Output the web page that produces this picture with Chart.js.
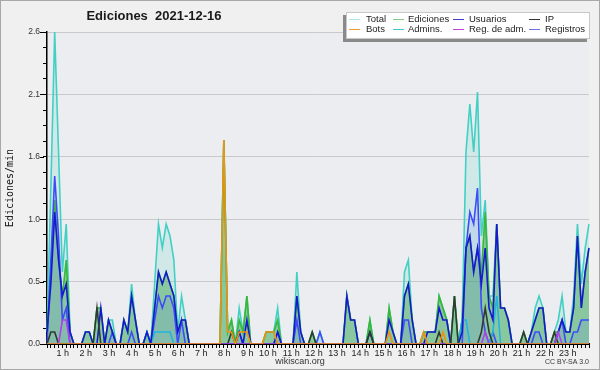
<!DOCTYPE html>
<html><head><meta charset="utf-8">
<script src="https://cdn.jsdelivr.net/npm/chart.js@4.4.1/dist/chart.umd.min.js"></script>
<style>html,body{margin:0;padding:0;background:#f0f0f0;} canvas{display:block;}</style>
</head><body>
<canvas id="c" width="600" height="370"></canvas>
<script>
// ---- tick labels ----
const hourTicks = ['1 h','2 h','3 h','4 h','5 h','6 h','7 h','8 h','9 h','10 h','11 h','12 h',
  '13 h','14 h','15 h','16 h','17 h','18 h','19 h','20 h','21 h','22 h','23 h'];
const yMajorTicks = [0, 0.52, 1.04, 1.56, 2.08, 2.6];
const yTickLabels = ['0.0','0.5','1.0','1.6','2.1','2.6'];

// ---- series (edits per minute, 10-minute bins) ----
const total = [
  0.1,1.3,2.6,1.6,0.6,1.0,  0.1,0,0,0,0.1,0.1,  0,0.3,0.3,0,0.2,0.2,  0,0,0.2,0.1,0.5,0.2,
  0,0,0.1,0,0.5,1.0,  0.8,1.0,0.9,0.7,0.1,0.4,  0.2,0,0,0,0,0,  0,0,0,0,1.7,0.1,
  0.2,0,0.3,0.1,0.4,0,  0,0,0,0.1,0.1,0.1,  0.3,0,0,0,0,0.6,  0.1,0,0,0.1,0,0.1,
  0,0,0,0,0,0,  0.4,0.2,0.2,0,0,0,  0.2,0,0,0,0,0.3,  0.1,0,0,0.6,0.7,0.2,
  0,0,0.1,0.1,0.1,0.1,  0.4,0.3,0.2,0,0.4,0,  0.2,1.6,2.0,1.6,2.1,0.9,  1.2,0.4,0.4,1.0,0.3,0.3,
  0.2,0,0,0,0.1,0,  0.1,0.3,0.4,0.3,0,0,  0.1,0.2,0.4,0.1,0.1,0.4,  1.0,0.5,0.8,1.0];
const ediciones = [
  0.1,0.6,1.2,0.7,0.4,0.7,  0.1,0,0,0,0.1,0.1,  0,0.3,0.3,0,0.2,0.1,  0,0,0.2,0.1,0.4,0.2,
  0,0,0.1,0,0.3,0.6,  0.5,0.6,0.5,0.4,0.1,0.2,  0.2,0,0,0,0,0,  0,0,0,0,1.7,0.1,
  0.2,0,0.2,0.1,0.4,0,  0,0,0,0.1,0.1,0.1,  0.2,0,0,0,0,0.4,  0.1,0,0,0.1,0,0,
  0,0,0,0,0,0,  0.4,0.2,0.2,0,0,0,  0.2,0,0,0,0,0.3,  0.1,0,0,0.4,0.5,0.2,
  0,0,0.1,0.1,0.1,0.1,  0.4,0.3,0.2,0,0.4,0,  0.2,0.8,0.9,0.6,0.8,0.6,  1.1,0.4,0.3,1.0,0.3,0.3,
  0.2,0,0,0,0.1,0,  0.1,0.2,0.3,0.3,0,0,  0.1,0.1,0.2,0.1,0.1,0.3,  0.9,0.3,0.6,0.8];
const usuarios = [
  0.1,0.5,1.1,0.7,0.4,0.5,  0.1,0,0,0,0.1,0.1,  0,0,0.3,0,0.2,0.1,  0,0,0.2,0.1,0.4,0.2,
  0,0,0.1,0,0.3,0.6,  0.5,0.6,0.5,0.4,0.1,0.2,  0.2,0,0,0,0,0,  0,0,0,0,0,0,
  0,0,0.1,0,0.2,0,  0,0,0,0,0,0,  0.1,0,0,0,0,0.4,  0.1,0,0,0,0,0,
  0,0,0,0,0,0,  0.4,0.2,0.2,0,0,0,  0.1,0,0,0,0,0.2,  0.1,0,0,0.4,0.5,0.2,
  0,0,0,0.1,0.1,0.1,  0.3,0.2,0.2,0,0,0,  0.1,0.8,0.9,0.6,0.8,0.5,  0.8,0.3,0.2,1.0,0.3,0.3,
  0.2,0,0,0,0,0,  0.1,0.2,0.3,0.3,0,0,  0,0.1,0.2,0.1,0.1,0.3,  0.9,0.3,0.6,0.8];
const ip = [
  0,0.1,0.1,0,0,0,  0,0,0,0,0,0,  0,0.3,0,0,0,0,  0,0,0,0,0,0,
  0,0,0,0,0,0,  0,0,0,0,0,0,  0,0,0,0,0,0,  0,0,0,0,0,0,
  0.1,0,0,0,0,0,  0,0,0,0,0,0,  0,0,0,0,0,0,  0,0,0,0.1,0,0,
  0,0,0,0,0,0,  0,0,0,0,0,0,  0.1,0,0,0,0,0,  0,0,0,0,0,0,
  0,0,0,0,0,0,  0.1,0,0,0,0.4,0,  0,0,0,0,0,0.1,  0.3,0.1,0,0,0,0,
  0,0,0,0,0.1,0,  0,0,0,0,0,0,  0.1,0,0,0,0,0,  0,0,0,0];
const bots = [
  0,0,0,0,0,0,  0,0,0,0,0,0,  0,0,0,0,0,0,  0,0,0,0,0,0,
  0,0,0,0,0,0,  0,0,0,0,0,0,  0,0,0,0,0,0,  0,0,0,0,1.7,0.1,
  0.1,0,0.1,0.1,0.1,0,  0,0,0,0.1,0.1,0.1,  0,0,0,0,0,0,  0,0,0,0,0,0,
  0,0,0,0,0,0,  0,0,0,0,0,0,  0,0,0,0,0,0.1,  0,0,0,0,0,0,
  0,0,0.1,0,0,0,  0,0.1,0,0,0,0,  0,0,0,0,0,0,  0,0,0,0,0,0,
  0,0,0,0,0,0,  0,0,0,0,0,0,  0,0,0,0,0,0,  0,0,0,0];
const admins = [
  0,0,0,0,0,0,  0,0,0,0,0,0,  0,0,0,0,0,0,  0,0,0,0,0,0,
  0,0,0.1,0,0.1,0.1,  0.1,0.1,0.1,0,0,0,  0,0,0,0,0,0,  0,0,0,0,0,0,
  0,0,0,0,0,0,  0,0,0,0,0,0,  0,0,0,0,0,0,  0,0,0,0,0,0,
  0,0,0,0,0,0,  0,0,0,0,0,0,  0,0,0,0,0,0,  0,0,0,0,0,0,
  0,0,0,0,0,0,  0,0,0,0,0,0,  0.2,0.2,0,0,0,0,  0,0,0.1,0.4,0,0,
  0,0,0,0,0,0,  0,0,0,0,0,0,  0,0,0,0,0,0,  0,0,0,0];
const regAdm = [
  0,0,0,0,0.2,0.2,  0,0,0,0,0,0,  0,0,0,0,0,0,  0,0,0,0,0,0,
  0,0,0,0,0,0,  0,0,0,0,0,0,  0,0,0,0,0,0,  0,0,0,0,0,0,
  0,0,0,0,0,0,  0,0,0,0,0,0,  0,0,0,0,0,0,  0,0,0,0,0,0,
  0,0,0,0,0,0,  0,0,0,0,0,0,  0,0,0,0,0,0,  0,0,0,0,0,0,
  0,0,0,0,0,0,  0,0,0,0,0,0,  0,0,0,0,0,0,  0.1,0,0,0,0,0,
  0,0,0,0,0,0,  0,0,0,0,0,0,  0,0.1,0,0,0,0,  0,0,0,0];
const registros = [
  0,0.7,1.4,0.9,0.2,0.3,  0,0,0,0,0,0,  0,0,0,0,0,0.1,  0,0,0,0,0.1,0,
  0,0,0,0,0.2,0.4,  0.3,0.4,0.4,0.3,0,0.2,  0,0,0,0,0,0,  0,0,0,0,0,0,
  0,0,0.1,0,0,0,  0,0,0,0,0,0,  0.1,0,0,0,0,0.2,  0,0,0,0,0,0.1,
  0,0,0,0,0,0,  0,0,0,0,0,0,  0,0,0,0,0,0,  0,0,0,0.2,0.2,0,
  0,0,0,0,0,0,  0,0,0,0,0,0,  0,0.8,1.1,1.0,1.3,0.3,  0.1,0,0.1,0,0,0,
  0,0,0,0,0,0,  0,0.1,0.1,0,0,0,  0,0.1,0.2,0,0,0.1,  0.1,0.2,0.2,0.2];

const legendItems = [
  ['Total', '#a6e6e2'], ['Ediciones', '#80cc80'], ['Usuarios', '#4040c8'], ['IP', '#333333'],
  ['Bots', '#f0a030'], ['Admins.', '#44c8d8'], ['Reg. de adm.', '#c040dc'], ['Registros', '#7070e8']
];

const labels = total.map((_, i) => String(i));

// minor y ticks: 4 subdivisions between labelled ticks
const yAllTicks = [];
for (let k = 0; k < yMajorTicks.length - 1; k++) {
  const a = yMajorTicks[k], b = yMajorTicks[k + 1];
  for (let s = 0; s < 4; s++) yAllTicks.push(a + (b - a) * s / 4);
}
yAllTicks.push(yMajorTicks[yMajorTicks.length - 1]);

function ds(label, data, color, order, extra) {
  return Object.assign({
    label, data, borderColor: color, backgroundColor: color, borderWidth: 1.6,
    pointRadius: 0, tension: 0, fill: false, order
  }, extra || {});
}

const decor = {
  id: 'decor',
  beforeDraw(chart) {
    const c = chart.ctx, a = chart.chartArea;
    c.save();
    c.fillStyle = '#f0f0f0';
    c.fillRect(0, 0, chart.width, chart.height);
    c.fillStyle = '#ebedf0';
    c.fillRect(a.left, a.top, a.right - a.left, a.bottom - a.top);
    c.restore();
  },
  afterDraw(chart) {
    const c = chart.ctx, a = chart.chartArea, ys = chart.scales.y;
    c.save();
    // longer major ticks on y axis
    c.strokeStyle = '#000'; c.lineWidth = 1;
    yMajorTicks.forEach(v => {
      const py = Math.round(ys.getPixelForValue(v)) + 0.5;
      c.beginPath(); c.moveTo(a.left - 7, py); c.lineTo(a.left - 3, py); c.stroke();
    });
    // title
    c.fillStyle = '#1a1a1a';
    c.font = 'bold 13px "Liberation Sans", Arial, sans-serif';
    c.textAlign = 'center'; c.textBaseline = 'middle';
    c.fillText('Ediciones  2021-12-16', 154, 16);
    // legend box with shadow
    c.fillStyle = '#8a8a8a';
    c.fillRect(343, 15, 244, 27);
    c.fillStyle = '#ffffff';
    c.fillRect(346, 12, 244, 27);
    c.strokeStyle = '#c8c8c8'; c.lineWidth = 1;
    c.strokeRect(346.5, 12.5, 243, 26);
    const colLine = [349, 393, 453, 529];
    const colText = [366, 408, 469, 545];
    const rowY = [19, 29];
    c.font = '9.5px "Liberation Sans", Arial, sans-serif';
    c.textAlign = 'left'; c.textBaseline = 'middle';
    legendItems.forEach((it, k) => {
      const col = k % 4, row = Math.floor(k / 4);
      const y = rowY[row] + 0.5;
      c.strokeStyle = it[1]; c.lineWidth = 1;
      c.beginPath(); c.moveTo(colLine[col], y); c.lineTo(colLine[col] + 11, y); c.stroke();
      c.fillStyle = '#222';
      c.fillText(it[0], colText[col], rowY[row] + 0.5);
    });
    // footer
    c.fillStyle = '#333';
    c.font = '9px "Liberation Sans", Arial, sans-serif';
    c.textAlign = 'center';
    c.fillText('wikiscan.org', 300, 362);
    c.font = '7px "Liberation Sans", Arial, sans-serif';
    c.textAlign = 'right';
    c.fillText('CC BY-SA 3.0', 589, 362);
    // outer frame
    c.strokeStyle = '#a8a8a8'; c.lineWidth = 1;
    c.strokeRect(0.5, 0.5, chart.width - 1, chart.height - 1);
    c.restore();
  }
};

new Chart(document.getElementById('c'), {
  type: 'line',
  data: {
    labels,
    datasets: [
      ds('Total', total, '#42d0c4', 8, { fill: 'origin', backgroundColor: 'rgba(70,205,190,0.16)' }),
      ds('Ediciones', ediciones, '#38b838', 7, { fill: 'origin', backgroundColor: 'rgba(60,165,80,0.48)' }),
      ds('Registros', registros, '#3c4cf6', 6, { fill: 'origin', backgroundColor: 'rgba(90,110,255,0.13)' }),
      ds('Admins.', admins, '#22b4e0', 5),
      ds('Usuarios', usuarios, '#1818d0', 4),
      ds('IP', ip, '#2f3a31', 3),
      ds('Reg. de adm.', regAdm, '#b040ec', 2),
      ds('Bots', bots, '#f09010', 1)
    ]
  },
  options: {
    responsive: false,
    animation: false,
    devicePixelRatio: 1,
    layout: { padding: { top: 32, right: 11, bottom: 0, left: 0 } },
    plugins: { legend: { display: false }, title: { display: false }, tooltip: { enabled: false } },
    elements: { point: { radius: 0 }, line: { borderJoinStyle: 'miter' } },
    scales: {
      x: {
        type: 'category',
        offset: false,
        grid: { display: true, drawOnChartArea: false, drawTicks: true, tickLength: 4, tickColor: '#000', tickWidth: 1 },
        border: { display: true, color: '#000', width: 2 },
        ticks: {
          autoSkip: false, maxRotation: 0, minRotation: 0, align: 'end', padding: 0, labelOffset: -1,
          color: '#222', font: { family: '"Liberation Sans", Arial, sans-serif', size: 9 },
          callback: (v, i) => (i > 0 && i % 6 === 0 && hourTicks[i / 6 - 1]) ? hourTicks[i / 6 - 1] : ''
        },
        afterFit: s => { s.height = 26; }
      },
      y: {
        type: 'linear', min: 0, max: 2.6,
        afterBuildTicks: s => { s.ticks = yAllTicks.map(v => ({ value: v })); },
        grid: {
          color: ctx => (ctx.index % 4 === 0 && ctx.index > 0) ? '#c9c9cb' : 'rgba(0,0,0,0)',
          tickColor: '#000', tickLength: 4, lineWidth: 1, drawTicks: true
        },
        border: { display: true, color: '#000', width: 1.5 },
        ticks: {
          autoSkip: false, padding: 3, color: '#333',
          font: { family: '"Liberation Sans", Arial, sans-serif', size: 8.5 },
          callback: (v, i) => (i % 4 === 0) ? yTickLabels[i / 4] : ''
        },
        title: {
          display: true, text: 'Ediciones/min', color: '#111',
          font: { family: '"DejaVu Sans Mono", monospace', size: 10 },
          padding: { top: 4, bottom: 0 }
        },
        afterFit: s => { s.width = 47; }
      }
    }
  },
  plugins: [decor]
});
</script>
</body></html>
